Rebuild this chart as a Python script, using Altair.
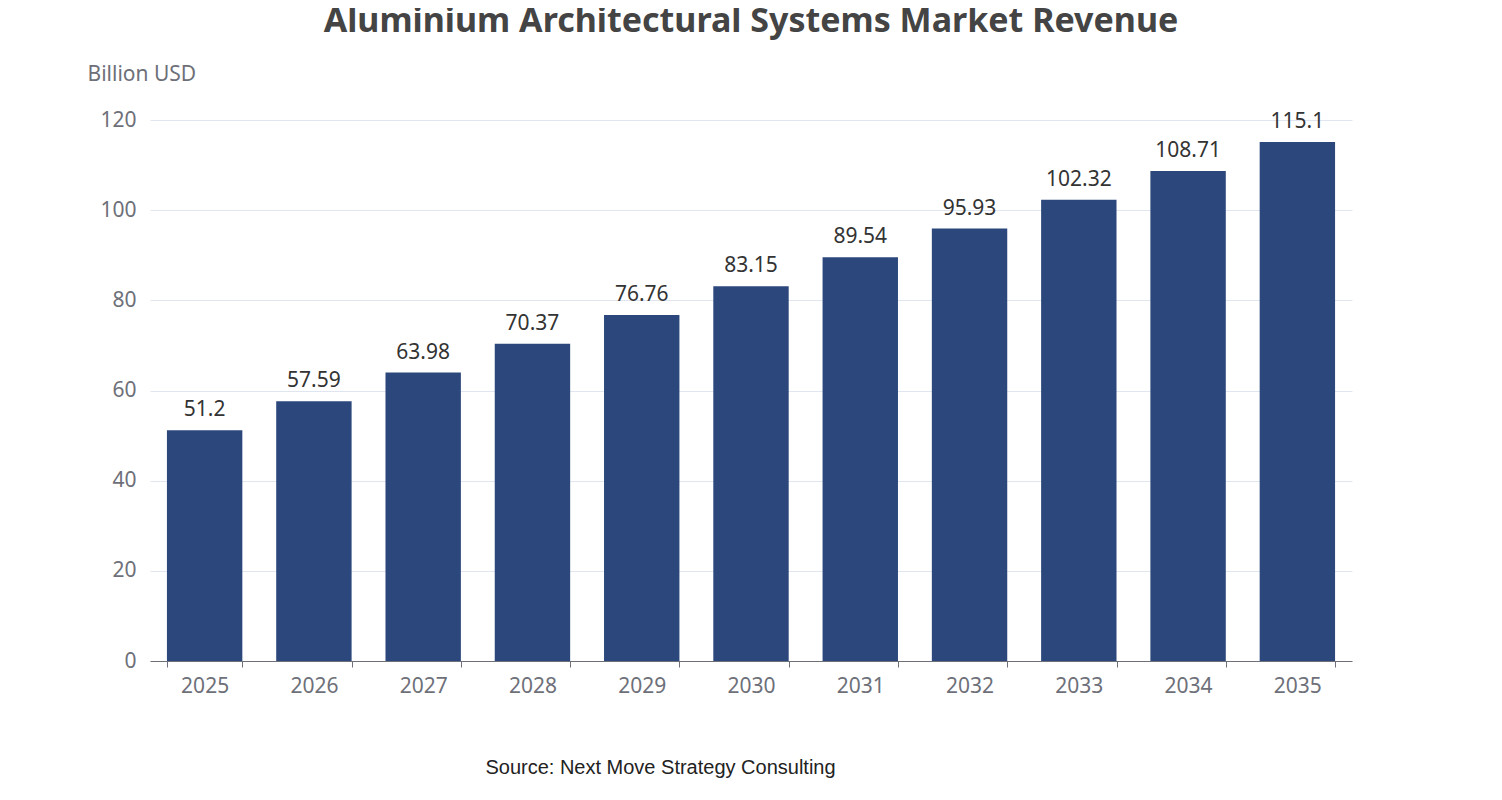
import pandas as pd
import altair as alt

years = ["2025", "2026", "2027", "2028", "2029", "2030", "2031", "2032", "2033", "2034", "2035"]
revenue = [51.2, 57.59, 63.98, 70.37, 76.76, 83.15, 89.54, 95.93, 102.32, 108.71, 115.1]

df = pd.DataFrame({"year": years, "revenue": revenue})

FONT = "Noto Sans"

base = alt.Chart(df).encode(
    x=alt.X(
        "year:N",
        title="Source: Next Move Strategy Consulting",
        scale=alt.Scale(paddingInner=0.31, paddingOuter=0.155),
        axis=alt.Axis(
            labelAngle=0, labelFontSize=21, labelColor="#6e7079", labelPadding=8,
            domainColor="#6e7079", tickColor="#6e7079", tickBand="extent", tickSize=6,
            titleFont="Liberation Sans", titleFontSize=20, titleFontWeight="normal",
            titleColor="#222222", titleX=510, titleY=96, titleAnchor="middle",
        ),
    ),
    y=alt.Y(
        "revenue:Q",
        title="Billion USD",
        scale=alt.Scale(domain=[0, 120]),
        axis=alt.Axis(
            values=[0, 20, 40, 60, 80, 100, 120], labelFontSize=21, labelColor="#6e7079",
            labelPadding=14, domain=False, ticks=False, gridColor="#e0e6f1",
            titleAngle=0, titleFontSize=21, titleFontWeight="normal", titleColor="#6e7079",
            titleX=-63, titleY=-36, titleAlign="left",
        ),
    ),
)

bars = base.mark_bar(color="#2b477b")
labels = base.mark_text(dy=-20, fontSize=21, color="#333333", font=FONT).encode(text="revenue:Q")

chart = (
    (bars + labels)
    .properties(
        width=1202,
        height=541,
        autosize=alt.AutoSizeParams(type="none"),
        padding={"left": 142, "top": 112, "right": 140, "bottom": 130},
        title=alt.Title(
            "Aluminium Architectural Systems Market Revenue",
            fontSize=34, fontWeight="bold", color="#444444", font=FONT,
            anchor="middle", offset=24,
        ),
    )
    .configure(font=FONT)
    .configure_view(stroke=None)
)

chart.save("out.html", embed_options={"renderer": "svg", "actions": False})
